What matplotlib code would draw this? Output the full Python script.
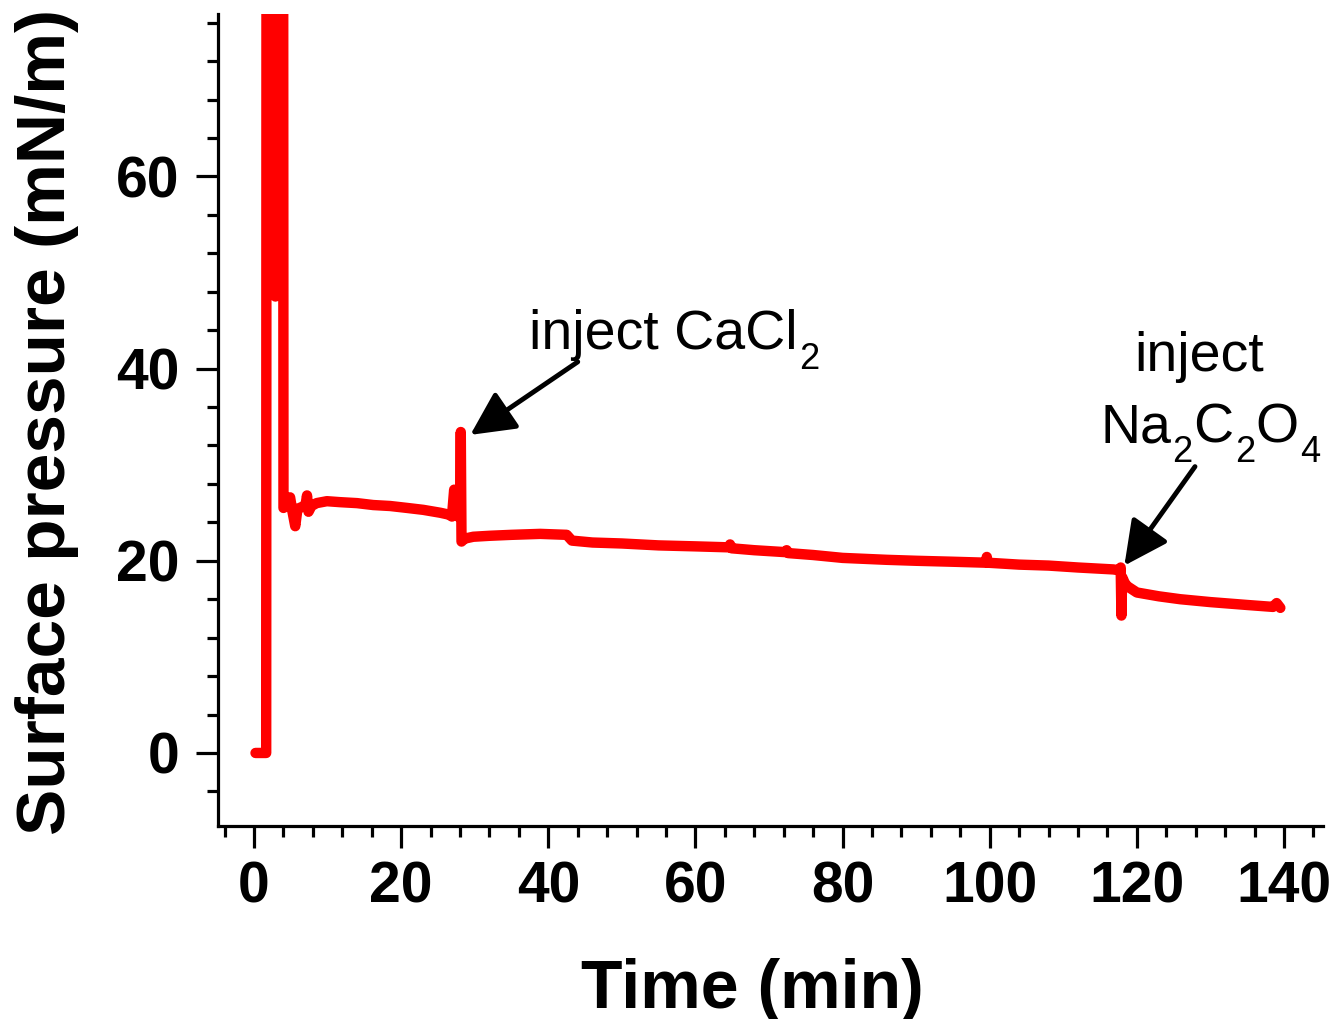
import matplotlib
matplotlib.use("Agg")
import matplotlib.pyplot as plt
from matplotlib.ticker import MultipleLocator

plt.rcParams['font.family'] = ['Liberation Sans', 'DejaVu Sans']

# time (min) and surface pressure (mN/m)
time_min = [0.2, 1.65, 1.7, 2.85, 2.9, 2.95, 3.95, 4.0, 4.5, 4.9, 5.2, 5.6, 5.9, 6.5,
            7.0, 7.2, 7.4, 7.8, 8.5, 9.9, 11.7, 14.0, 16.2, 18.5, 20.8, 23.0, 25.3,
            26.5, 26.9, 27.2, 27.4, 27.7, 28.0, 28.1, 28.2, 28.6, 29.8, 32.0, 35.0,
            38.9, 42.5, 43.2, 46.0, 50.0, 55.0, 60.0, 64.5, 64.7, 64.9, 68.0, 72.2,
            72.4, 72.6, 76.0, 80.0, 86.0, 90.0, 95.0, 99.5, 99.6, 99.7, 104.0, 108.0,
            112.0, 116.8, 117.7, 117.8, 117.9, 118.0, 118.4, 118.8, 120.0, 123.0,
            125.9, 130.0, 135.0, 138.5, 139.0, 139.5]
pressure = [0.0, 0.0, 100.0, 100.0, 47.5, 100.0, 100.0, 25.5, 25.8, 26.6, 25.2, 23.6,
            25.4, 25.6, 25.8, 26.8, 25.1, 25.7, 26.0, 26.2, 26.1, 26.0, 25.8, 25.7,
            25.5, 25.3, 25.0, 24.8, 24.6, 27.4, 24.8, 24.6, 24.9, 33.4, 22.0, 22.3,
            22.5, 22.6, 22.7, 22.8, 22.7, 22.1, 21.9, 21.8, 21.6, 21.5, 21.4, 21.7,
            21.3, 21.1, 20.9, 21.1, 20.8, 20.6, 20.3, 20.1, 20.0, 19.9, 19.8, 20.4,
            19.8, 19.6, 19.5, 19.3, 19.1, 19.0, 19.3, 14.3, 18.3, 17.6, 17.3, 16.7,
            16.3, 16.0, 15.7, 15.4, 15.2, 15.6, 15.1]

x_ticks = [0, 20, 40, 60, 80, 100, 120, 140]
y_ticks = [0, 20, 40, 60]

fig = plt.figure(figsize=(13.38, 10.19), dpi=100)
ax = fig.add_axes([218 / 1338, 193 / 1019, 1105 / 1338, 812 / 1019])

ax.plot(time_min, pressure, color='#ff0000', lw=7.5, solid_capstyle='round',
        solid_joinstyle='round')

ax.set_xlim(-4.9, 145.3)
ax.set_ylim(-7.6, 76.9)
ax.set_xticks(x_ticks)
ax.set_yticks(y_ticks)
ax.xaxis.set_minor_locator(MultipleLocator(4))
ax.yaxis.set_minor_locator(MultipleLocator(4))

for side in ['top', 'right']:
    ax.spines[side].set_visible(False)
for side in ['left', 'bottom']:
    ax.spines[side].set_linewidth(2.3)

ax.tick_params(which='major', direction='out', length=16, width=2.3)
ax.tick_params(which='minor', direction='out', length=8, width=2.3)
ax.tick_params(axis='x', which='major', pad=9)
ax.tick_params(axis='y', which='major', pad=12)
for lab in ax.get_xticklabels() + ax.get_yticklabels():
    lab.set_fontsize(41)
    lab.set_fontweight('bold')

ax.set_xlabel('Time (min)', fontsize=49, fontweight='bold')
ax.set_ylabel('Surface pressure (mN/m)', fontsize=50, fontweight='bold')
ax.xaxis.set_label_coords(0.4837, -0.162)
ax.yaxis.set_label_coords(-0.1258, 0.4975)


def formula(x, y, parts, size=40, sub_size=26):
    # chain text pieces so subscripts sit low like in the figure
    prev = ax.text(x, y, parts[0], fontsize=size, ha='left', va='baseline')
    for i, s in enumerate(parts[1:], start=1):
        sub = i % 2 == 1
        prev = ax.annotate(s, xy=(1, y), xycoords=(prev, 'data'),
                           xytext=(1.0 if sub else 0.5, -14 if sub else 0),
                           textcoords='offset points',
                           fontsize=sub_size if sub else size,
                           ha='left', va='baseline')


arrow = dict(arrowstyle='-|>,head_length=0.9,head_width=0.45', lw=3.5,
             color='black', mutation_scale=30, shrinkA=0, shrinkB=0)

formula(37.4, 42.0, ['inject CaCl', '2'])
ax.annotate('', xy=(29.4, 33.1), xytext=(44.0, 40.7), arrowprops=arrow)

ax.text(128.5, 39.7, 'inject', fontsize=40, ha='center', va='baseline')
formula(115.0, 32.3, ['Na', '2', 'C', '2', 'O', '4'])
ax.annotate('', xy=(118.3, 19.5), xytext=(127.9, 29.8), arrowprops=arrow)

fig.savefig('out.png', dpi=100)
